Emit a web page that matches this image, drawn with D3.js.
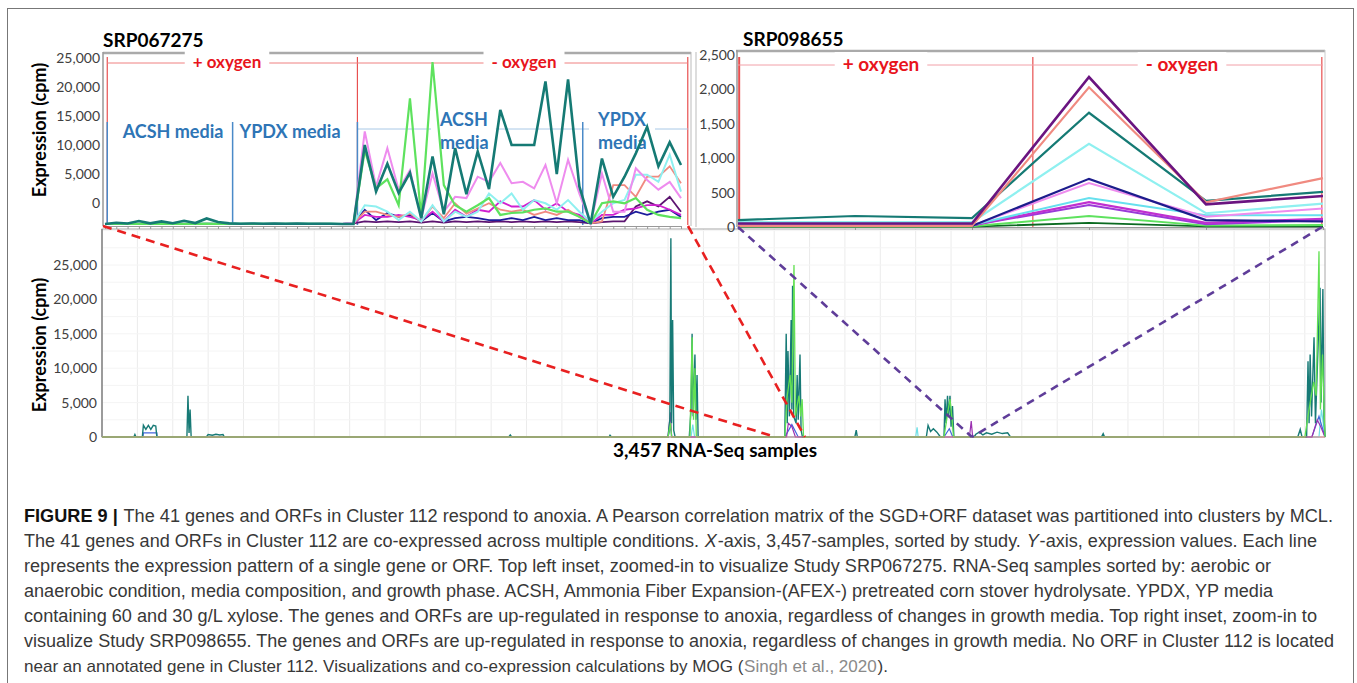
<!DOCTYPE html>
<html>
<head>
<meta charset="utf-8">
<script src="https://cdn.jsdelivr.net/npm/d3@7"></script>
<style>
  body { margin: 0; background: #fff; }
  svg { display: block; font-family: Lato, "Open Sans", sans-serif; }
  .cap { white-space: pre; }
</style>
</head>
<body>
<svg id="fig" width="1357" height="683"></svg>
<script>
// ---------- data ----------
// main chart: [sample index, cpm] along the 3,457 samples
const mainTeal = [[0,0],[90,0],[93,350],[96,0],[114,0],[117,1700],[124,1100],[131,1700],[138,1100],[145,1700],[152,1600],[155,0],
  [240,0],[243,6000],[246,600],[249,4000],[252,0],[295,0],[300,350],[312,250],[322,400],[333,300],[342,350],[346,0],
  [1150,0],[1154,300],[1158,0],[1433,0],[1436,250],[1440,0],
  [1600,0],[1605,2500],[1608,28900],[1610,2000],[1613,17000],[1616,1000],[1620,0],
  [1660,0],[1665,4000],[1668,15000],[1671,3000],[1676,12000],[1679,2500],[1682,9000],[1685,0],
  [1930,0],[1934,15000],[1937,2000],[1939,12500],[1943,3000],[1948,17000],[1950,4000],[1952,22000],[1955,3000],[1962,2000],[1965,9000],[1968,2500],[1973,12000],[1976,1000],[1980,0],
  [2128,0],[2132,1000],[2135,0],[2330,0],[2335,1700],[2342,800],[2350,1200],[2360,700],[2370,0],
  [2380,0],[2383,5500],[2386,2000],[2390,6000],[2393,3000],[2397,6000],[2400,1500],[2404,4500],[2408,0],
  [2465,0],[2470,400],[2480,700],[2490,300],[2500,600],[2515,400],[2530,700],[2545,500],[2560,600],[2568,0],
  [2825,0],[2830,500],[2834,0],[3380,0],[3387,1100],[3392,0],[3405,0],[3409,11000],[3412,2000],[3415,12000],[3419,3000],[3426,14500],[3430,2000],[3443,21700],[3446,5000],[3451,21500],[3454,3000],[3457,0]];
const mainGreen = [[0,0],[1600,0],[1607,2000],[1610,0],[1662,0],[1668,14500],[1672,2500],[1676,10000],[1680,0],
  [1930,0],[1937,6000],[1945,9000],[1950,5000],[1956,25000],[1960,3000],[1970,6000],[1975,3000],[1979,5500],[1983,0],
  [2380,0],[2392,4000],[2397,5500],[2402,3000],[2407,0],[3400,0],[3415,5000],[3425,8000],[3432,6000],[3440,27000],[3444,4000],[3450,12000],[3455,3000],[3457,0]];
const mainPurple = [[0,0],[1600,0],[1607,3600],[1610,0],[1935,0],[1940,2000],[1950,1500],[1960,0],[2452,0],[2457,2300],[2461,0],[3420,0],[3435,2500],[3445,1500],[3457,0]];
const mainBlue = [[0,0],[116,0],[117,600],[155,600],[156,0],[1600,0],[1607,1500],[1611,0],[1930,0],[1950,1800],[1968,0],[2380,0],[2395,1200],[2405,0],[3420,0],[3440,3000],[3457,0]];
const mainCyan = [[0,0],[1665,0],[1670,1800],[1675,0],[2300,0],[2304,1400],[2307,0],[3440,0],[3447,4000],[3457,0]];
const mainYTicks = [0, 5000, 10000, 15000, 20000, 25000];
const study1Range = [1903, 1987];
const study2Sample = 2459;

// inset 1: SRP067275, 52 samples (22 aerobic, 30 anaerobic)
const teal1 = [0,200,80,450,100,400,120,500,150,850,300,100,50,80,50,60,40,70,30,50,40,0,
  0,12200,5000,9300,4800,7900,900,10400,1500,11700,4600,11200,5400,17600,12200,12200,12200,22000,7700,22300,5800,0,10100,4200,7300,10900,15000,8900,12600,9100];
const green1 = [0,30,20,40,20,30,20,40,20,60,30,20,10,20,10,20,10,20,10,20,10,0,
  0,11400,5500,6900,2900,19400,1100,25000,6000,2900,1900,2900,4000,1400,1700,1800,2200,2400,1900,1900,1100,100,3200,3500,3200,4000,2200,1400,1100,900];
const violet1 = [0,20,10,30,10,20,10,30,10,40,20,10,10,20,10,20,10,20,10,20,10,0,
  100,14300,5800,11700,5300,8300,900,7800,1900,4200,4000,7300,6500,9400,6300,6500,5500,9100,3200,9900,4700,100,7800,1900,1900,8600,6800,5300,6500,4000];
const cyan1 = [0,40,30,50,30,40,30,50,30,60,40,30,20,30,20,30,20,30,20,30,20,0,
  100,2900,2700,1900,600,1900,400,2900,400,1900,1100,1900,4700,3200,4700,2200,3700,3200,2200,3700,1900,400,1900,3200,3700,7600,7600,6500,10700,5000];
const salmon1 = [0,20,10,20,10,20,10,20,10,30,20,10,10,10,10,10,10,10,10,10,10,0,
  100,1900,1900,1400,1100,1600,400,2700,900,3200,1600,2400,3200,2200,1900,2200,1400,1900,1400,2200,1100,100,400,6000,6000,4200,7300,7300,8900,6300];
const magenta1 = [0,20,10,20,10,20,10,20,10,30,20,10,10,10,10,10,10,10,10,10,10,0,
  100,1400,1100,1100,1400,1100,600,1900,400,2200,1100,2200,1900,3500,2700,2700,3700,2200,3200,1900,1400,100,1400,1400,2200,2400,2900,2900,2200,1400];
const navy1 = [0,30,20,30,20,30,20,30,20,40,30,20,10,20,10,20,10,20,10,20,10,0,
  100,2200,600,1700,1100,1400,400,1700,400,900,1100,900,600,600,900,600,1100,600,900,600,600,100,900,1100,1100,1900,1400,1900,2200,1100];
const purple1 = [0,10,10,10,10,10,10,10,10,20,10,10,10,10,10,10,10,10,10,10,10,0,
  100,400,300,400,300,400,200,400,200,400,300,400,300,400,300,400,300,400,300,400,300,100,300,400,400,2700,3500,2700,4200,1900];
const inset1YTicks = [0, 5000, 10000, 15000, 20000, 25000];

// inset 2: SRP098655, 6 samples
const teal2 = [100,160,130,1660,380,510];
const purple2 = [50,50,50,2180,330,450];
const salmon2 = [15,15,15,2030,360,710];
const cyan2 = [70,70,70,1210,200,340];
const navy2 = [15,15,15,700,100,80];
const violet2 = [20,20,20,640,150,270];
const aqua2 = [30,30,30,420,170,170];
const magenta2 = [25,25,25,360,60,120];
const orchid2 = [25,25,25,320,40,100];
const green2 = [10,10,10,160,20,30];
const darkgreen2 = [5,5,5,60,10,10];
const inset2YTicks = [0, 500, 1000, 1500, 2000, 2500];

// caption
const captionLines = [
  [{t: 'FIGURE 9 | ', b: true}, {t: 'The 41 genes and ORFs in Cluster 112 respond to anoxia. A Pearson correlation matrix of the SGD+ORF dataset was partitioned into clusters by MCL.'}],
  [{t: 'The 41 genes and ORFs in Cluster 112 are co-expressed across multiple conditions. '}, {t: 'X', i: true}, {t: '-axis, 3,457-samples, sorted by study. '}, {t: 'Y', i: true}, {t: '-axis, expression values. Each line'}],
  [{t: 'represents the expression pattern of a single gene or ORF. Top left inset, zoomed-in to visualize Study SRP067275. RNA-Seq samples sorted by: aerobic or'}],
  [{t: 'anaerobic condition, media composition, and growth phase. ACSH, Ammonia Fiber Expansion-(AFEX-) pretreated corn stover hydrolysate. YPDX, YP media'}],
  [{t: 'containing 60 and 30 g/L xylose. The genes and ORFs are up-regulated in response to anoxia, regardless of changes in growth media. Top right inset, zoom-in to'}],
  [{t: 'visualize Study SRP098655. The genes and ORFs are up-regulated in response to anoxia, regardless of changes in growth media. No ORF in Cluster 112 is located'}],
  [{t: 'near an annotated gene in Cluster 112. Visualizations and co-expression calculations by MOG ('}, {t: 'Singh et al., 2020', g: true}, {t: ').'}]
];
const captionEnds = [1333, 1317, 1271, 1273, 1317, 1334, 888];

// ---------- drawing ----------
const svg = d3.select('#fig');
const RED = '#e8141c', BLUE = '#2e75b6';

svg.append('rect').attr('x', 7.5).attr('y', 8.5).attr('width', 1346).attr('height', 700)
  .attr('fill', 'none').attr('stroke', '#777');

function gapLabel(g, x, y, txt, attrs) {
  const t = g.append('text').attr('x', x).attr('y', y).text(txt);
  Object.entries(attrs).forEach(([k, v]) => t.attr(k, v));
  const bb = t.node().getBBox();
  g.insert('rect', () => t.node()).attr('x', bb.x - 8).attr('y', bb.y).attr('width', bb.width + 16)
    .attr('height', bb.height).attr('fill', '#fff');
  return t;
}

// ===== main chart =====
const xMain = d3.scaleLinear().domain([0, 3457]).range([102, 1325]);
const yMain = d3.scaleLinear().domain([0, 25000]).range([437, 265]);
const mainTop = 229;
const gm = svg.append('g');

gm.selectAll('.vgrid').data(d3.range(100, 3457, 100)).enter().append('line')
  .attr('x1', d => xMain(d)).attr('x2', d => xMain(d)).attr('y1', mainTop).attr('y2', yMain(0))
  .attr('stroke', '#ebebeb');
gm.selectAll('.hgrid').data(d3.range(2500, 30001, 2500)).enter().append('line')
  .attr('x1', xMain(0)).attr('x2', xMain(3457)).attr('y1', d => yMain(d)).attr('y2', d => yMain(d))
  .attr('stroke', '#f4f4f4');
gm.append('rect').attr('x', xMain(0)).attr('y', mainTop).attr('width', xMain(3457) - xMain(0))
  .attr('height', yMain(0) - mainTop).attr('fill', 'none').attr('stroke', '#a8a8a8');
gm.append('line').attr('x1', xMain(0)).attr('x2', xMain(0)).attr('y1', mainTop).attr('y2', yMain(0))
  .attr('stroke', '#888').attr('stroke-width', 1.5);

const lineMain = d3.line().x(d => xMain(d[0])).y(d => yMain(d[1]));
[[mainCyan, '#6fe0e6', 1.2], [mainBlue, '#4466dd', 1.2], [mainPurple, '#9b30b0', 1.2],
 [mainTeal, '#177a76', 1.4], [mainGreen, '#62e052', 1.3]].forEach(([d, c, w]) => {
  gm.append('path').attr('d', lineMain(d)).attr('fill', 'none').attr('stroke', c).attr('stroke-width', w);
});
gm.append('line').attr('x1', xMain(0)).attr('x2', xMain(3457)).attr('y1', yMain(0)).attr('y2', yMain(0))
  .attr('stroke', '#e08a8a').attr('stroke-width', 1.2);

const yAxMain = gm.append('g').attr('transform', `translate(${xMain(0)},0)`)
  .call(d3.axisLeft(yMain).tickValues(mainYTicks).tickSize(0).tickPadding(5).tickFormat(d3.format(',')));
yAxMain.select('.domain').remove();
yAxMain.selectAll('text').attr('font-size', 14).attr('fill', '#404040').attr('font-family', 'Lato');

gm.append('text').attr('transform', 'translate(46,345) rotate(-90)').attr('text-anchor', 'middle')
  .attr('font-size', 18).attr('font-weight', 'bold').text('Expression (cpm)');
gm.append('text').attr('x', 715).attr('y', 457).attr('text-anchor', 'middle')
  .attr('font-size', 19).attr('font-weight', 'bold').text('3,457 RNA-Seq samples');

// ===== inset 1 : SRP067275 =====
const xIn1 = d3.scaleLinear().domain([0, 51]).range([105, 681]);
const yIn1 = d3.scaleLinear().domain([0, 25000]).range([224, 62]);
const yIn1Axis = d3.scaleLinear().domain([0, 25000]).range([203, 58.5]); // axis labels sit offset in the source
const g1 = svg.append('g');

g1.append('text').attr('x', 103).attr('y', 47).attr('font-size', 19).attr('font-weight', 'bold').text('SRP067275');
g1.append('line').attr('x1', 103).attr('x2', 691).attr('y1', 53).attr('y2', 53).attr('stroke', '#aaa').attr('stroke-width', 2.5);
g1.append('line').attr('x1', 103).attr('x2', 103).attr('y1', 52).attr('y2', 226).attr('stroke', '#999').attr('stroke-width', 1.5);
g1.append('line').attr('x1', 691).attr('x2', 691).attr('y1', 52).attr('y2', 226).attr('stroke', '#bbb');
const xAx1 = g1.append('g').attr('transform', 'translate(0,226)')
  .call(d3.axisBottom(xIn1).tickValues(d3.range(52)).tickSize(3).tickFormat(''));
xAx1.selectAll('line,path').attr('stroke', '#999');

const yAx1 = g1.append('g').attr('transform', 'translate(101,0)')
  .call(d3.axisLeft(yIn1Axis).tickValues(inset1YTicks).tickSize(0).tickPadding(1).tickFormat(d3.format(',')));
yAx1.select('.domain').remove();
yAx1.selectAll('text').attr('font-size', 14).attr('fill', '#404040').attr('font-family', 'Lato');
g1.append('text').attr('transform', 'translate(46,130) rotate(-90)').attr('text-anchor', 'middle')
  .attr('font-size', 18).attr('font-weight', 'bold').text('Expression (cpm)');

// condition dividers
g1.selectAll('.rdiv').data([0.2, 22.35, 51.6]).enter().append('line')
  .attr('x1', d => xIn1(d)).attr('x2', d => xIn1(d)).attr('y1', 57).attr('y2', 225)
  .attr('stroke', '#e85050').attr('stroke-width', 1.2);
g1.append('line').attr('x1', xIn1(0.2)).attr('x2', xIn1(51.6)).attr('y1', 63).attr('y2', 63)
  .attr('stroke', '#ef8080').attr('stroke-width', 1);
g1.append('line').attr('x1', xIn1(22.35)).attr('x2', xIn1(51.6)).attr('y1', 129).attr('y2', 129)
  .attr('stroke', '#a8c8e6').attr('stroke-width', 1);
g1.selectAll('.bdiv').data([0.2, 11.3, 22.35, 42.3]).enter().append('line')
  .attr('x1', d => xIn1(d)).attr('x2', d => xIn1(d)).attr('y1', 122).attr('y2', 225)
  .attr('stroke', '#4a8ac8').attr('stroke-width', 1.5);

const redTxt = {'font-size': 17, 'font-weight': 'bold', fill: RED, 'text-anchor': 'middle'};
gapLabel(g1, 227, 68, '+ oxygen', redTxt);
gapLabel(g1, 524, 68, '- oxygen', redTxt);
g1.append('text').attr('x', 173).attr('y', 138).text('ACSH media').attr('font-size', 18).attr('font-weight', 'bold').attr('fill', BLUE).attr('text-anchor', 'middle');
g1.append('text').attr('x', 290).attr('y', 138).text('YPDX media').attr('font-size', 18).attr('font-weight', 'bold').attr('fill', BLUE).attr('text-anchor', 'middle');
[[440, 'ACSH'], [598, 'YPDX']].forEach(([x, w]) => {
  const bt = {'font-size': 18, 'font-weight': 'bold', fill: BLUE};
  gapLabel(g1, x, 126, w, bt);
  g1.append('text').attr('x', x).attr('y', 149).text('media').attr('font-size', 18).attr('font-weight', 'bold').attr('fill', BLUE);
});

const line1 = d3.line().x((d, i) => xIn1(i)).y(d => yIn1(d));
[[purple1, '#5c1470', 1.8], [navy1, '#1c1c9c', 1.8], [magenta1, '#d020d0', 1.8], [salmon1, '#f08a80', 1.8],
 [cyan1, '#8ff0f0', 2], [violet1, '#ee8cee', 2], [green1, '#5ee25e', 2.2], [teal1, '#157a74', 2.6]].forEach(([d, c, w]) => {
  g1.append('path').attr('d', line1(d)).attr('fill', 'none').attr('stroke', c).attr('stroke-width', w)
    .attr('stroke-linejoin', 'miter');
});

// ===== inset 2 : SRP098655 =====
const xIn2 = d3.scaleLinear().domain([0, 5]).range([738, 1323]);
const yIn2 = d3.scaleLinear().domain([0, 2500]).range([227, 55]);
const g2 = svg.append('g');

g2.append('text').attr('x', 743).attr('y', 46).attr('font-size', 19).attr('font-weight', 'bold').text('SRP098655');
g2.append('line').attr('x1', 736).attr('x2', 1325).attr('y1', 51).attr('y2', 51).attr('stroke', '#aaa').attr('stroke-width', 2.5);
g2.append('line').attr('x1', 737).attr('x2', 737).attr('y1', 50).attr('y2', 227).attr('stroke', '#999').attr('stroke-width', 1.5);
g2.append('line').attr('x1', 1325).attr('x2', 1325).attr('y1', 50).attr('y2', 227).attr('stroke', '#ccc');
g2.append('line').attr('x1', 696).attr('x2', 696).attr('y1', 52).attr('y2', 227).attr('stroke', '#bbb');
const xAx2 = g2.append('g').attr('transform', 'translate(0,227)')
  .call(d3.axisBottom(xIn2).tickValues(d3.range(6)).tickSize(3).tickFormat(''));
xAx2.selectAll('line,path').attr('stroke', '#999');
const yAx2 = g2.append('g').attr('transform', 'translate(736,0)')
  .call(d3.axisLeft(yIn2).tickValues(inset2YTicks).tickSize(0).tickPadding(1).tickFormat(d3.format(',')));
yAx2.select('.domain').remove();
yAx2.selectAll('text').attr('font-size', 14).attr('fill', '#404040').attr('font-family', 'Lato');

g2.selectAll('.rdiv').data([0.01, 2.52, 4.99]).enter().append('line')
  .attr('x1', d => xIn2(d)).attr('x2', d => xIn2(d)).attr('y1', 57).attr('y2', 227)
  .attr('stroke', '#e85050').attr('stroke-width', (d, i) => i === 0 ? 2 : 1.2);
g2.append('line').attr('x1', xIn2(0)).attr('x2', xIn2(5)).attr('y1', 65).attr('y2', 65)
  .attr('stroke', '#f2a0a8').attr('stroke-width', 1);
const redTxt2 = {'font-size': 19, 'font-weight': 'bold', fill: RED, 'text-anchor': 'middle'};
gapLabel(g2, 881, 71, '+ oxygen', redTxt2);
gapLabel(g2, 1182, 71, '- oxygen', redTxt2);

const line2 = d3.line().x((d, i) => xIn2(i)).y(d => yIn2(d));
[[darkgreen2, '#0a6a20', 1.8], [green2, '#5ee25e', 2], [orchid2, '#9a3ad8', 2], [magenta2, '#c030d0', 2.2],
 [aqua2, '#66e0ee', 2], [violet2, '#ee8cee', 2], [navy2, '#1c1c8c', 2.2], [cyan2, '#8ff0f0', 2.2],
 [teal2, '#157a74', 2.2], [salmon2, '#f08a80', 2.2], [purple2, '#6a1480', 2.6]].forEach(([d, c, w]) => {
  g2.append('path').attr('d', line2(d)).attr('fill', 'none').attr('stroke', c).attr('stroke-width', w);
});

// ===== zoom connectors =====
const gz = svg.append('g').attr('fill', 'none').attr('stroke-width', 2.6);
[[103, 226, study1Range[0]], [688, 226, study1Range[1]]].forEach(([x, y, s]) => {
  gz.append('line').attr('x1', x).attr('y1', y).attr('x2', xMain(s)).attr('y2', yMain(0))
    .attr('stroke', '#e82020').attr('stroke-dasharray', '9,6');
});
[[738, 227], [1322, 227]].forEach(([x, y]) => {
  gz.append('line').attr('x1', x).attr('y1', y).attr('x2', xMain(study2Sample)).attr('y2', yMain(0))
    .attr('stroke', '#5f3d99').attr('stroke-dasharray', '8,6');
});

// ===== caption =====
// each run of text is its own element; font shrinks if needed so the runs only ever stretch to the source line end
const gc = svg.append('g').attr('font-family', '"Liberation Sans", Arial, sans-serif').attr('fill', '#383838');
const segGap = 0.8, capFont = 17.5;
captionLines.forEach((segs, i) => {
  const y = 521.5 + i * 25;
  const avail = captionEnds[i] - 24 - segGap * (segs.length - 1);
  const nodes = segs.map(s => {
    const t = gc.append('text').attr('class', 'cap').attr('y', y).attr('font-size', capFont).text(s.t);
    if (s.b) t.attr('font-weight', 'bold').attr('fill', '#111');
    if (s.i) t.attr('font-style', 'italic');
    if (s.g) t.attr('fill', '#8a8a8a');
    return t;
  });
  let widths = nodes.map(n => n.node().getComputedTextLength());
  const k0 = avail / d3.sum(widths);
  if (k0 < 1) {
    nodes.forEach(n => n.attr('font-size', capFont * k0 * 0.985));
    widths = nodes.map(n => n.node().getComputedTextLength());
  }
  const k = avail / d3.sum(widths);
  let x = 24;
  nodes.forEach((n, j) => {
    n.attr('x', x).attr('textLength', widths[j] * k).attr('lengthAdjust', 'spacingAndGlyphs');
    x += widths[j] * k + segGap;
  });
});
</script>
</body>
</html>
